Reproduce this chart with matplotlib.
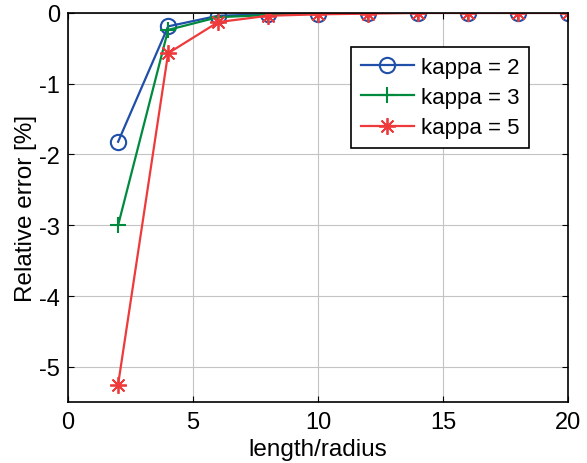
import matplotlib.pyplot as plt

x = [2, 4, 6, 8, 10, 12, 14, 16, 18, 20]
kappa2 = [-1.82, -0.19, -0.04, -0.02, -0.01, 0.0, 0.0, 0.0, 0.0, 0.0]
kappa3 = [-3.0, -0.24, -0.06, -0.03, -0.01, 0.0, 0.0, 0.0, 0.0, 0.0]
kappa5 = [-5.25, -0.57, -0.13, -0.04, -0.02, -0.01, 0.0, 0.0, 0.0, 0.0]

plt.rcParams["font.family"] = ["Liberation Sans", "DejaVu Sans"]
plt.rcParams["axes.unicode_minus"] = False

fig = plt.figure(figsize=(5.87, 4.64), dpi=100)
ax = fig.add_axes([0.116, 0.131, 0.852, 0.839])

ax.plot(x, kappa2, color="#1f4fa8", marker="o", ms=11, mfc="none", mew=1.5, lw=1.6, label="kappa = 2")
ax.plot(x, kappa3, color="#008a3e", marker="+", ms=12, mew=1.5, lw=1.6, label="kappa = 3")
ax.plot(x, kappa5, color="#ee3a3a", marker=(8, 2, 0), ms=12, mew=1.3, lw=1.6, label="kappa = 5")

ax.set_xlim(0, 20)
ax.set_ylim(-5.5, 0)
ax.set_xticks([0, 5, 10, 15, 20])
ax.set_yticks([-5, -4, -3, -2, -1, 0])
ax.grid(True, color="#c4c4c4", lw=0.8)
ax.tick_params(direction="in", labelsize=17, top=True, right=True, length=4, pad=6)
for s in ax.spines.values():
    s.set_linewidth(1.2)

ax.set_xlabel("length/radius", fontsize=17.5, labelpad=4)
ax.set_ylabel("Relative error [%]", fontsize=17.5, labelpad=1)

leg = ax.legend(loc="upper right", bbox_to_anchor=(0.922, 0.913), borderaxespad=0, fontsize=16,
                fancybox=False, edgecolor="black", framealpha=1, handlelength=2.4, handletextpad=0.3,
                borderpad=0.45, labelspacing=0.42)
leg.get_frame().set_linewidth(1.2)

plt.savefig("out.png", dpi=100)
